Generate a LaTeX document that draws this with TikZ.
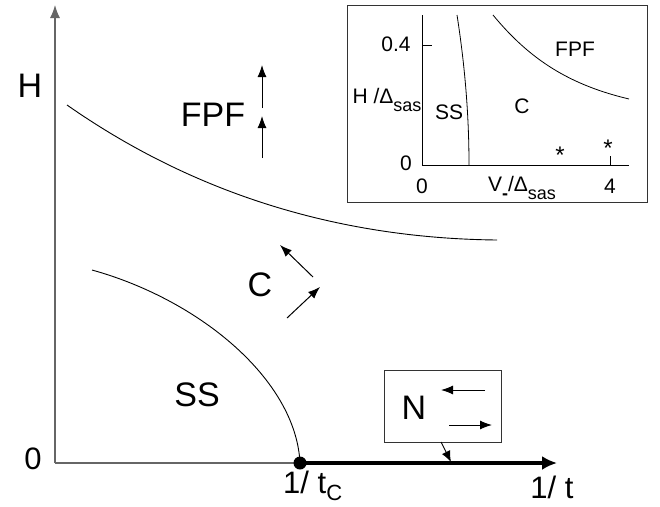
\documentclass[tikz,border=0pt]{standalone}
\usepackage{fontspec}
\setmainfont{Liberation Sans}
\usetikzlibrary{arrows.meta}
\newcommand{\sub}[1]{\raisebox{-0.4em}{\fontsize{18}{20}\selectfont #1}}
\begin{document}
\begin{tikzpicture}[x=1pt,y=-1pt,
  axis/.style={draw=black!60,line width=1.2pt},
  bnd/.style={draw=black,line width=0.9pt},
  tip/.style={-{Latex[length=12pt,width=9pt]},line width=1pt},
  big/.style={font=\fontsize{34}{38}\selectfont,inner sep=0pt},
  mid/.style={font=\fontsize{31}{34}\selectfont,inner sep=0pt},
  small/.style={font=\fontsize{21}{24}\selectfont,inner sep=0pt}]
\useasboundingbox (0,0) rectangle (660,506);
% main axes
\coordinate (O) at (55,463);
\coordinate (Ytop) at (55,5);
\coordinate (tc) at (300,463);
\coordinate (Xend) at (557,463);
\draw[axis,-{Latex[length=13pt,width=10pt]}] (O) -- (Ytop);
\draw[axis] (O) -- (tc);
\draw[line width=4pt,-{Latex[length=15pt,width=14pt]}] (tc) -- (Xend);
\fill (tc) circle (6.5pt);
% labels
\node[mid] (zero) at (33,459) {0};
\node[big] (H) at (30,86) {H};
\node[mid,anchor=west] (tcl) at (283,486) {1/ t\raisebox{-7pt}{\fontsize{22}{24}\selectfont C}};
\node[mid] (tl) at (552,487) {1/ t};
% boundaries
\draw[bnd] (67,105) .. controls (160,170) and (300,238) .. (497,240);
\draw[bnd] (92,270) .. controls (200,300) and (296,380) .. (tc);
% region labels
\node[big] (FPF) at (213,115) {FPF};
\node[big] (C) at (260,285) {C};
\node[big] (SS) at (197,395) {SS};
\coordinate (a1s) at (262,158); \coordinate (a1e) at (262,116);
\coordinate (a2s) at (262,108); \coordinate (a2e) at (262,65);
\draw[tip] (a1s) -- (a1e);
\draw[tip] (a2s) -- (a2e);
\coordinate (c1s) at (313,277); \coordinate (c1e) at (280,245);
\coordinate (c2s) at (287,318); \coordinate (c2e) at (320,287);
\draw[tip] (c1s) -- (c1e);
\draw[tip] (c2s) -- (c2e);
% N box
\node[draw=black!80,line width=0.9pt,minimum width=117pt,minimum height=72pt,inner sep=0pt] (Nbox) at (442.5,406) {};
\node[big] (N) at (414,408) {N};
\coordinate (n1s) at (485,390); \coordinate (n1e) at (441,390);
\coordinate (n2s) at (449,425); \coordinate (n2e) at (492,425);
\draw[tip] (n1s) -- (n1e);
\draw[tip] (n2s) -- (n2e);
\coordinate (nb) at (441,442); \coordinate (nt) at (451,462);
\draw[-{Latex[length=11pt,width=9pt]},line width=0.9pt] (nb) -- (nt);
% inset
\node[draw=black!80,line width=1pt,minimum width=300pt,minimum height=197pt,inner sep=0pt] (inset) at (497,103.5) {};
\coordinate (iO) at (422,165);
\coordinate (iYt) at (422,15);
\coordinate (iXe) at (629,165);
\draw[line width=1pt] (iYt) -- (iO) -- (iXe);
\coordinate (t4a) at (422,45); \coordinate (t4b) at (432,45);
\draw[line width=0.8pt] (t4a) -- (t4b);
\coordinate (tx4a) at (610,165); \coordinate (tx4b) at (610,156);
\draw[line width=0.8pt] (tx4a) -- (tx4b);
\draw[line width=0.8pt] (457,15) .. controls (464,60) and (469,110) .. (469,165);
\draw[line width=0.8pt] (493,15) .. controls (530,60) and (570,85) .. (629,99);
\node[small] (i04) at (396,44) {0.4};
\node[small] (i0) at (406,163) {0};
\node[small] (ix0) at (422,186) {0};
\node[small] (ix4) at (610,186) {4};
\node[small] (iH) at (387,100) {H /Δ\sub{sas}};
\node[small] (iSS) at (449,112) {SS};
\node[small] (iC) at (522,106) {C};
\node[small] (iFPF) at (575,49) {FPF};
\node[small] (iV) at (522,188) {V\sub{\textbf{-}}/Δ\sub{sas}};
\node[font=\fontsize{24}{24}\selectfont,inner sep=0pt] (s1) at (560,155) {*};
\node[font=\fontsize{24}{24}\selectfont,inner sep=0pt] (s2) at (608,148) {*};
\end{tikzpicture}
\end{document}
